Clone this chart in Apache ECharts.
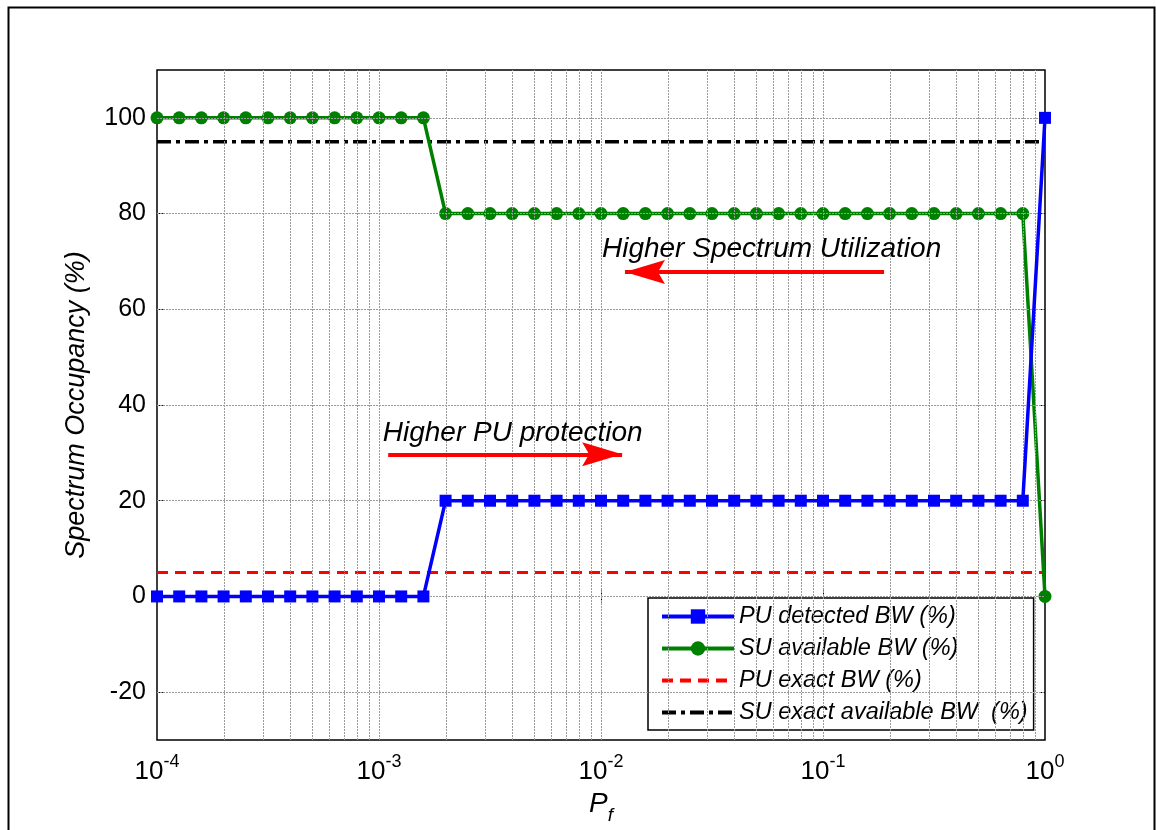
<!DOCTYPE html>
<html><head><meta charset="utf-8">
<script src="https://cdn.jsdelivr.net/npm/echarts@6/dist/echarts.min.js"></script>
<style>html,body{margin:0;padding:0;background:#fff}#c{width:1156px;height:830px}</style>
</head><body><div id="c"></div>
<script>
// P_f sample points (log-spaced, 0.1 decade steps)
const pf = [
  0.0001, 0.0001259, 0.0001585, 0.0001995, 0.0002512, 0.0003162, 0.0003981, 0.0005012, 0.000631, 0.0007943,
  0.001, 0.001259, 0.001585, 0.001995, 0.002512, 0.003162, 0.003981, 0.005012, 0.00631, 0.007943,
  0.01, 0.01259, 0.01585, 0.01995, 0.02512, 0.03162, 0.03981, 0.05012, 0.0631, 0.07943,
  0.1, 0.1259, 0.1585, 0.1995, 0.2512, 0.3162, 0.3981, 0.5012, 0.631, 0.7943,
  1
];
const puDetected = [
  0,0,0,0,0,0,0,0,0,0,
  0,0,0,20,20,20,20,20,20,20,
  20,20,20,20,20,20,20,20,20,20,
  20,20,20,20,20,20,20,20,20,20,
  100
];
const suAvailable = [
  100,100,100,100,100,100,100,100,100,100,
  100,100,100,80,80,80,80,80,80,80,
  80,80,80,80,80,80,80,80,80,80,
  80,80,80,80,80,80,80,80,80,80,
  0
];
const puExact = 5;
const suExact = 95;
const seriesNames = ['PU detected BW (%)', 'SU available BW (%)', 'PU exact BW (%)', 'SU exact available BW  (%)'];
const yTicks = [-20, 0, 20, 40, 60, 80, 100];
const yMin = -30, yMax = 110;
const xMajor = [0.0001, 0.001, 0.01, 0.1, 1];
const xGrid = [
  0.0002,0.0003,0.0004,0.0005,0.0006,0.0007,0.0008,0.0009,0.001,
  0.002,0.003,0.004,0.005,0.006,0.007,0.008,0.009,0.01,
  0.02,0.03,0.04,0.05,0.06,0.07,0.08,0.09,0.1,
  0.2,0.3,0.4,0.5,0.6,0.7,0.8,0.9
];
const annotations = [
  {text: 'Higher Spectrum Utilization', x: 0.0101, y: 72.6},
  {text: 'Higher PU protection', x: 0.00104, y: 34.1}
];
const arrows = [
  {from: [0.1884, 67.8], to: [0.01282, 67.8]},
  {from: [0.0011, 29.7], to: [0.01245, 29.7]}
];

const zip = (xs, ys) => xs.map((x, i) => [x, ys[i]]);
const FONT = '"Liberation Sans", Arial, sans-serif';
const gridLine = {color: '#9a9a9a', width: 1, type: [2, 1]};
const xFirst = xMajor[0], xLast = xMajor[xMajor.length - 1];
// dart-shaped arrow head (tip up at the box centre), padded to a square box
const ARROW = 'path://M40,40 L52,80 L40,73 L28,80 Z M0,0 L0,0 M80,80 L80,80';

const gridLines = xGrid.map(v => [{coord: [v, yMin]}, {coord: [v, yMax]}])
  .concat(yTicks.map(v => [{coord: [xFirst, v]}, {coord: [xLast, v]}]));

const chart = echarts.init(document.getElementById('c'), null, {renderer: 'canvas'});
chart.setOption({
  animation: false,
  backgroundColor: '#fff',
  textStyle: {fontFamily: FONT},
  graphic: [{
    type: 'rect', left: 6, top: 5, shape: {width: 1146, height: 840},
    style: {fill: 'none', stroke: '#000', lineWidth: 2}, silent: true, z: -1
  }],
  grid: {left: 157, top: 70, width: 888, height: 670, show: true, borderColor: '#000', borderWidth: 1.5, backgroundColor: '#fff'},
  xAxis: [{
    type: 'log', logBase: 10, min: xFirst, max: xLast,
    axisLine: {show: false},
    axisTick: {show: true, inside: true, length: 6, lineStyle: {color: '#000'}},
    splitLine: {show: false},
    axisLabel: {
      margin: 13, color: '#000',
      formatter: v => '{b|10}{s|' + Math.round(Math.log10(v)) + '}',
      rich: {
        b: {fontSize: 26, fontFamily: FONT, color: '#000', verticalAlign: 'bottom', padding: [6, 0, 0, 0]},
        s: {fontSize: 18, fontFamily: FONT, color: '#000', verticalAlign: 'top'}
      }
    },
    name: '{p|P}{f|f}', nameLocation: 'middle', nameGap: 50,
    nameTextStyle: {rich: {
      p: {fontSize: 28, fontStyle: 'italic', fontFamily: FONT, color: '#000', verticalAlign: 'top'},
      f: {fontSize: 19, fontStyle: 'italic', fontFamily: FONT, color: '#000', verticalAlign: 'bottom', padding: [16, 0, 0, 0]}
    }}
  }, {
    type: 'log', logBase: 10, min: xFirst, max: xLast, position: 'top',
    axisLine: {show: false}, axisLabel: {show: false}, splitLine: {show: false},
    axisTick: {show: true, inside: true, length: 6, lineStyle: {color: '#000'}}
  }],
  yAxis: [{
    type: 'value', min: yMin, max: yMax,
    axisLine: {show: false},
    axisTick: {show: true, inside: true, length: 6, customValues: yTicks, lineStyle: {color: '#000'}},
    splitLine: {show: false},
    axisLabel: {customValues: yTicks, fontSize: 25, color: '#000', margin: 11, fontFamily: FONT},
    name: 'Spectrum Occupancy (%)', nameLocation: 'middle', nameGap: 67,
    nameTextStyle: {fontSize: 27, fontStyle: 'italic', color: '#000', fontFamily: FONT}
  }, {
    type: 'value', min: yMin, max: yMax, position: 'right',
    axisLine: {show: false}, axisLabel: {show: false}, splitLine: {show: false},
    axisTick: {show: true, inside: true, length: 6, customValues: yTicks, lineStyle: {color: '#000'}}
  }],
  legend: {
    data: [
      {name: seriesNames[0], lineStyle: {width: 4}},
      {name: seriesNames[1], lineStyle: {width: 4}},
      {name: seriesNames[2], lineStyle: {width: 4}, itemStyle: {opacity: 0}},
      {name: seriesNames[3], lineStyle: {width: 4}, itemStyle: {opacity: 0}}
    ],
    orient: 'vertical', left: 648, top: 598,
    backgroundColor: '#fff', borderColor: '#000', borderWidth: 1.5, borderRadius: 0,
    padding: [7, 6, 6, 12], itemWidth: 72, itemHeight: 18, itemGap: 9,
    textStyle: {fontSize: 23.5, fontStyle: 'italic', color: '#000', fontFamily: FONT}
  },
  series: [
    {
      name: '_grid', type: 'line', data: [], silent: true, z: 1,
      markLine: {
        silent: true, symbol: 'none', label: {show: false}, animation: false,
        lineStyle: gridLine, emphasis: {disabled: true},
        data: gridLines
      }
    },
    {
      name: seriesNames[2], type: 'line', z: 3, symbol: 'none',
      data: [[xFirst, puExact], [xLast, puExact]],
      lineStyle: {color: '#ff0000', width: 3, type: [11, 7]}, itemStyle: {color: '#ff0000'}
    },
    {
      name: seriesNames[3], type: 'line', z: 3, symbol: 'none',
      data: [[xFirst, suExact], [xLast, suExact]],
      lineStyle: {color: '#000', width: 3.5, type: [14, 5, 4, 5]}, itemStyle: {color: '#000'}
    },
    {
      name: seriesNames[1], type: 'line', z: 4, data: zip(pf, suAvailable),
      symbol: 'circle', symbolSize: 13,
      lineStyle: {color: '#008000', width: 3.5}, itemStyle: {color: '#008000'}
    },
    {
      name: seriesNames[0], type: 'line', z: 5, data: zip(pf, puDetected),
      symbol: 'rect', symbolSize: 12,
      lineStyle: {color: '#0000ff', width: 3.5}, itemStyle: {color: '#0000ff'}
    },
    {
      name: '_arrows', type: 'line', data: [], z: 6, silent: true,
      markLine: {
        silent: true, symbol: ['none', ARROW], symbolSize: 80, label: {show: false}, animation: false,
        lineStyle: {color: '#ff0000', width: 4, type: 'solid'}, itemStyle: {color: '#ff0000'},
        emphasis: {disabled: true},
        data: arrows.map(a => [{coord: a.from}, {coord: a.to}])
      }
    },
    {
      name: '_text', type: 'scatter', z: 7, silent: true, symbolSize: 0,
      itemStyle: {opacity: 1},
      data: annotations.map(a => ({value: [a.x, a.y], label: {formatter: a.text}})),
      label: {show: true, position: 'right', distance: 0, fontSize: 28, fontStyle: 'italic', color: '#000', fontFamily: FONT}
    }
  ]
});
</script></body></html>
